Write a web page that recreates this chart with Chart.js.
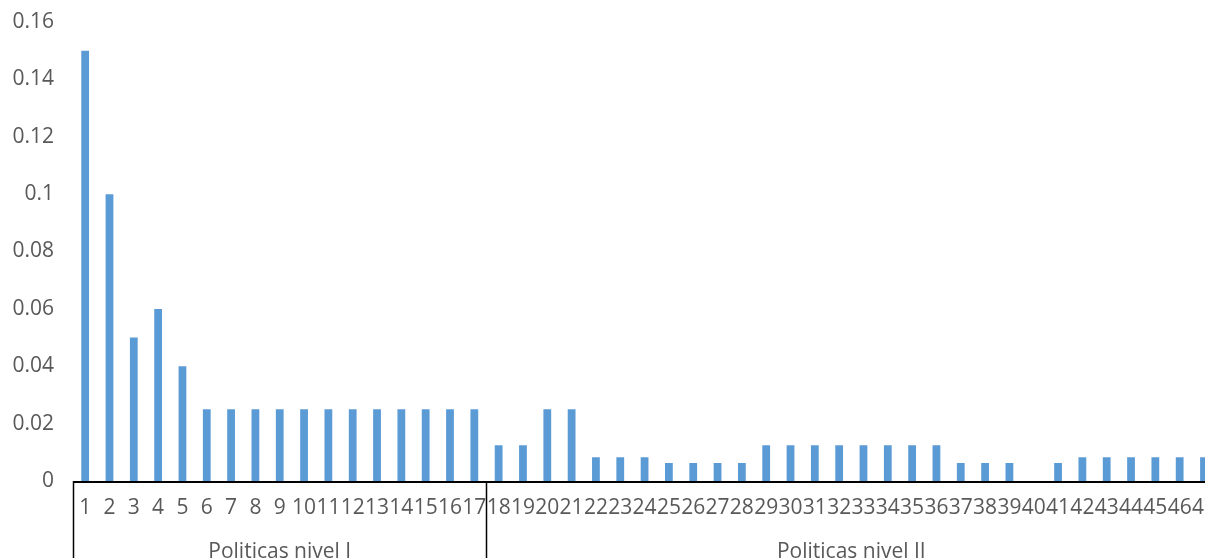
<!DOCTYPE html>
<html>
<head>
<meta charset="utf-8">
<script src="https://cdn.jsdelivr.net/npm/chart.js@4"></script>
<style>
  html, body { margin: 0; padding: 0; background: #fff; overflow: hidden; }
  #wrap { width: 1230px; height: 558px; }
</style>
</head>
<body>
<div id="wrap"><canvas id="policyChart" width="1230" height="558"></canvas></div>
<script>
// categories (policy numbers) and weights
const policies = ["1","2","3","4","5","6","7","8","9","10","11","12","13","14","15","16","17",
    "18","19","20","21","22","23","24","25","26","27","28","29","30","31","32","33","34","35",
    "36","37","38","39","40","41","42","43","44","45","46","47"];
const weights = [0.15, 0.1, 0.05, 0.06, 0.04, 0.025, 0.025, 0.025, 0.025, 0.025, 0.025, 0.025,
    0.025, 0.025, 0.025, 0.025, 0.025,
    0.0125, 0.0125, 0.025, 0.025, 0.0083, 0.0083, 0.0083, 0.00625, 0.00625, 0.00625, 0.00625,
    0.0125, 0.0125, 0.0125, 0.0125, 0.0125, 0.0125, 0.0125, 0.0125,
    0.00625, 0.00625, 0.00625, 0, 0.00625, 0.0083, 0.0083, 0.0083, 0.0083, 0.0083, 0.0083];
const groupNames = ["Politicas nivel I", "Politicas nivel II"];
const groupSizes = [17, 30];
const yTicks = [0, 0.02, 0.04, 0.06, 0.08, 0.1, 0.12, 0.14, 0.16];

const FONT = "'Open Sans', Lato, sans-serif";
const TEXT = "#595959";

// group brackets under the axis
const groupAxis = {
    id: "groupAxis",
    afterDraw(chart) {
        const ctx = chart.ctx;
        const x = chart.scales.x;
        const bottom = chart.chartArea.bottom;
        const half = (x.getPixelForValue(1) - x.getPixelForValue(0)) / 2;
        ctx.save();
        ctx.strokeStyle = "#000";
        ctx.lineWidth = 1.5;
        let start = 0;
        const edges = [x.getPixelForValue(0) - half];
        groupSizes.forEach(n => {
            edges.push(x.getPixelForValue(start + n - 1) + half);
            start += n;
        });
        edges.forEach(px => {
            ctx.beginPath();
            ctx.moveTo(Math.round(px) + 0.5, bottom);
            ctx.lineTo(Math.round(px) + 0.5, chart.height);
            ctx.stroke();
        });
        // axis line
        ctx.lineWidth = 2;
        ctx.beginPath();
        ctx.moveTo(edges[0], bottom + 1);
        ctx.lineTo(edges[edges.length - 1], bottom + 1);
        ctx.stroke();

        ctx.fillStyle = TEXT;
        ctx.font = "21px " + FONT;
        ctx.textAlign = "center";
        ctx.textBaseline = "middle";
        groupNames.forEach((name, i) => {
            ctx.fillText(name, (edges[i] + edges[i + 1]) / 2, 552);
        });
        ctx.restore();
    }
};

new Chart(document.getElementById("policyChart"), {
    type: "bar",
    data: {
        labels: policies,
        datasets: [{
            data: weights,
            backgroundColor: "#5B9BD5",
            borderWidth: 0,
            barPercentage: 0.64,
            categoryPercentage: 0.5
        }]
    },
    options: {
        responsive: false,
        animation: false,
        layout: { padding: { top: 22, left: 0, right: 0, bottom: 0 } },
        plugins: {
            legend: { display: false },
            tooltip: { enabled: false }
        },
        scales: {
            x: {
                grid: { display: false, drawTicks: false },
                border: { display: false },
                ticks: {
                    autoSkip: false,
                    maxRotation: 0,
                    minRotation: 0,
                    padding: 14,
                    color: TEXT,
                    font: { family: FONT, size: 21 }
                },
                afterFit(scale) { scale.height = 77; }
            },
            y: {
                min: 0,
                max: 0.16,
                afterBuildTicks(scale) { scale.ticks = yTicks.map(v => ({ value: v })); },
                grid: { display: false, drawTicks: false },
                border: { display: false },
                ticks: {
                    padding: 19,
                    color: TEXT,
                    font: { family: FONT, size: 21 },
                    callback: v => String(+v.toFixed(2))
                },
                afterFit(scale) {
                    scale.width = 73;
                    scale.paddingTop = 0;
                    scale.paddingBottom = 0;
                }
            }
        }
    },
    plugins: [groupAxis]
});
</script>
</body>
</html>
